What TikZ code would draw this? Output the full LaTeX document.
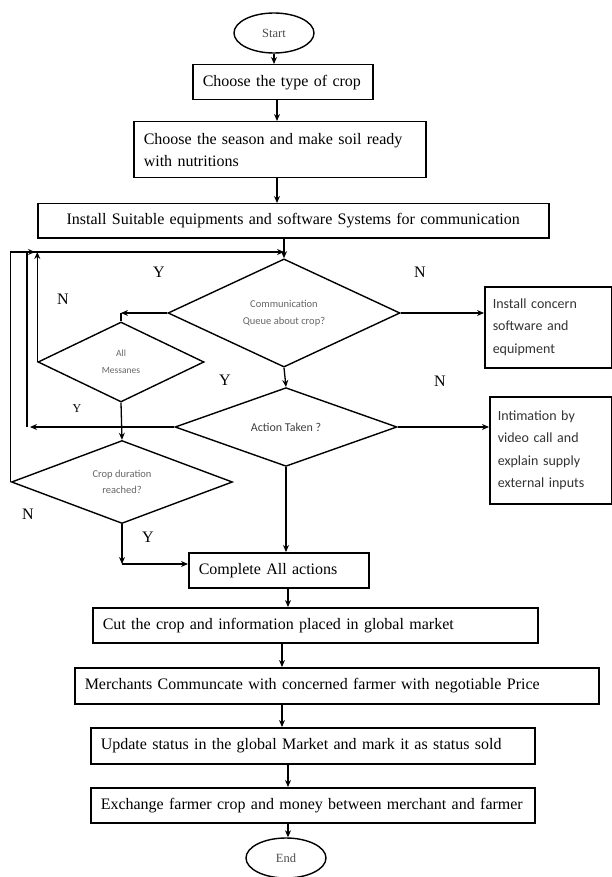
\documentclass[tikz,border=0pt]{standalone}
\usepackage{fontspec}
\setmainfont{Liberation Serif}
\newfontfamily\calfont{Carlito}
\usetikzlibrary{shapes.geometric,arrows.meta}
\begin{document}
\begin{tikzpicture}[x=1pt,y=-1pt,
  box/.style={draw,line width=1.5pt,rectangle,inner xsep=10pt,inner ysep=0pt,anchor=north west,font=\fontsize{16}{22}\selectfont},
  dia/.style={draw,line width=1.4pt,diamond,inner sep=0pt,align=center,text=black!60},
  ell/.style={draw,line width=1.4pt,ellipse,inner sep=0pt,minimum width=80pt,minimum height=40pt,font=\fontsize{12.5}{15}\selectfont,text=black!70},
  side/.style={draw,line width=1.5pt,rectangle,anchor=north west,inner xsep=8pt,inner ysep=0pt,align=left,font=\calfont\fontsize{14}{22.5}\selectfont,text=black!80},
  arr/.style={line width=1.3pt,-{Stealth[length=7pt,width=6pt]}},
  ln/.style={line width=1.3pt},
  lab/.style={font=\fontsize{16}{18}\selectfont}]
\useasboundingbox (0,0) rectangle (612,877);
\fill[white] (0,0) rectangle (612,877);

% column coordinates
\coordinate (xa) at (277,0);
\coordinate (xc) at (288,0);
\coordinate (xd) at (282,0);
\coordinate (topL) at (27,252);
\coordinate (jtop) at (35,252);
\coordinate (atL) at (30,0);
\coordinate (bend) at (122,564);

% main boxes
\node[ell] (start) at (274,33) {Start};
\node[box, text width=160pt, minimum height=35pt, align=left] (b1) at (192,64) {Choose the type of crop};
\node[box, text width=272pt, minimum height=56pt, align=left] (b2) at (133,121) {Choose the season and make soil ready\\with nutritions};
\node[box, text width=491pt, minimum height=34pt, align=center] (b3) at (37,203) {\mbox{Install Suitable equipments and software Systems for communication}};

% decisions
\node[dia, minimum width=232pt, minimum height=99pt, font=\calfont\fontsize{10.5}{17}\selectfont] (d1) at (284,313) {Communication\\Queue about crop?};
\node[dia, minimum width=222pt, minimum height=76pt, font=\calfont\fontsize{12}{14}\selectfont, text=black!75] (at) at (286,427) {Action Taken ?};
\node[dia, minimum width=166pt, minimum height=80pt, font=\calfont\fontsize{9.5}{17}\selectfont] (am) at (121,362) {All\\Messanes};
\node[dia, minimum width=221pt, minimum height=83pt, font=\calfont\fontsize{10.5}{16}\selectfont] (cd) at (122,482) {Crop duration\\reached?};

% side boxes
\node[side, text width=111pt, minimum height=81pt] (r1) at (484,286) {Install concern\\software and\\equipment};
\node[side, text width=106pt, minimum height=107pt] (r2) at (489,396) {Intimation by\\video call and\\explain supply\\external inputs};

% lower boxes
\node[box, text width=160pt, minimum height=35pt, align=left] (ca) at (188,552) {Complete All actions};
\node[box, text width=425pt, minimum height=35pt, align=left] (cut) at (92,607) {\mbox{Cut the crop and information placed in global market}};
\node[box, text width=504pt, minimum height=36pt, align=left] (me) at (74,667) {\mbox{Merchants Communcate with concerned farmer with negotiable Price}};
\node[box, text width=424pt, minimum height=36pt, align=left] (up) at (90,727) {\mbox{Update status in the global Market and mark it as status sold}};
\node[box, text width=424pt, minimum height=35pt, align=left] (ex) at (90,787) {\mbox{Exchange farmer crop and money between merchant and farmer}};
\node[ell] (end) at (286,858) {End};

% labels
\node[lab] (ly1) at (159,272) {Y};
\node[lab] (ln1) at (420,272) {N};
\node[lab] (ln2) at (63,299) {N};
\node[lab] (ly2) at (225,380) {Y};
\node[lab] (ln3) at (440,381) {N};
\node[font=\fontsize{12}{14}\selectfont] (ly3) at (77,409) {Y};
\node[lab] (ln4) at (28,514) {N};
\node[lab] (ly4) at (148,537) {Y};

% connectors (main column)
\draw[arr] (start.south) -- (start.south |- b1.north);
\draw[arr] (b1.south -| xa) -- (b2.north -| xa);
\draw[arr] (b2.south -| xa) -- (b3.north -| xa);
\draw[arr] (b3.south -| d1.north) -- (d1.north);
\draw[arr] (d1.south) -- (at.north);
\draw[arr] (at.south) -- (at.south |- ca.north);
\draw[arr] (ca.south -| xc) -- (cut.north -| xc);
\draw[arr] (cut.south -| xd) -- (me.north -| xd);
\draw[arr] (me.south -| xd) -- (up.north -| xd);
\draw[arr] (up.south -| xc) -- (ex.north -| xc);
\draw[arr] (ex.south -| xc) -- (end.north -| xc);

% side branches
\draw[arr] (d1.east) -- (d1.east -| r1.west);
\draw[arr] (at.east) -- (at.east -| r2.west);

% loops on the left
\draw[arr] (cd.west) -- (cd.west |- topL) -- (jtop);
\draw[arr] (topL) -- (topL -| d1.north);
\draw[arr] (at.west) -- (at.west -| atL);
\draw[ln] (at.west -| topL) -- (topL);
\draw[arr] (am.west) -- (am.west |- topL);
\draw[arr] (d1.west) -- (d1.west -| am.north);
\draw[ln] (d1.west -| am.north) -- (am.north);
\draw[arr] (am.south) -- (cd.north);
\draw[arr] (cd.south) -- (bend);
\draw[arr] (bend) -- (bend -| ca.west);
\end{tikzpicture}
\end{document}
